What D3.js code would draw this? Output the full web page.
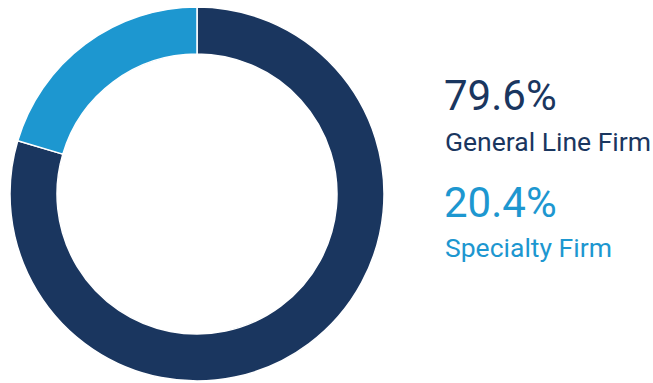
<!DOCTYPE html>
<html>
<head>
<meta charset="utf-8">
<script src="https://cdn.jsdelivr.net/npm/d3@7"></script>
<style>
  body { margin: 0; background: #fff; }
  svg { display: block; }
</style>
</head>
<body>
<svg id="plot" width="653" height="383"></svg>
<script>
let svg = d3.select("#plot")

// data
let labels = ["General Line Firm", "Specialty Firm"]
let values = [79.6, 20.4]
let colors = ["#1a365f", "#1d97d0"]

let cx = 197, cy = 194
let outer_r = 187, inner_r = 140

let pie = d3.pie().sort(null).value((d) => d.value)
let arc = d3.arc().innerRadius(inner_r).outerRadius(outer_r)

let data = labels.map((l, i) => ({label: l, value: values[i], color: colors[i]}))

let gDonut = svg.append("g").attr("transform", `translate(${cx},${cy})`)

gDonut.selectAll("path")
  .data(pie(data))
  .join("path")
  .attr("d", arc)
  .attr("fill", (d) => d.data.color)
  .attr("stroke", "#fff")
  .attr("stroke-width", 1.5)

// legend text on the right
let baselines = [[110, 151], [217, 257]]

let legend = svg.append("g")

data.forEach((d, i) => {
  legend.append("text")
    .attr("x", 444)
    .attr("y", baselines[i][0])
    .attr("fill", d.color)
    .style("font-family", "Roboto")
    .style("font-size", "42px")
    .text(d.value.toFixed(1) + "%")

  legend.append("text")
    .attr("x", 445)
    .attr("y", baselines[i][1])
    .attr("fill", d.color)
    .style("font-family", "Roboto")
    .style("font-size", "26.5px")
    .text(d.label)
})
</script>
</body>
</html>
